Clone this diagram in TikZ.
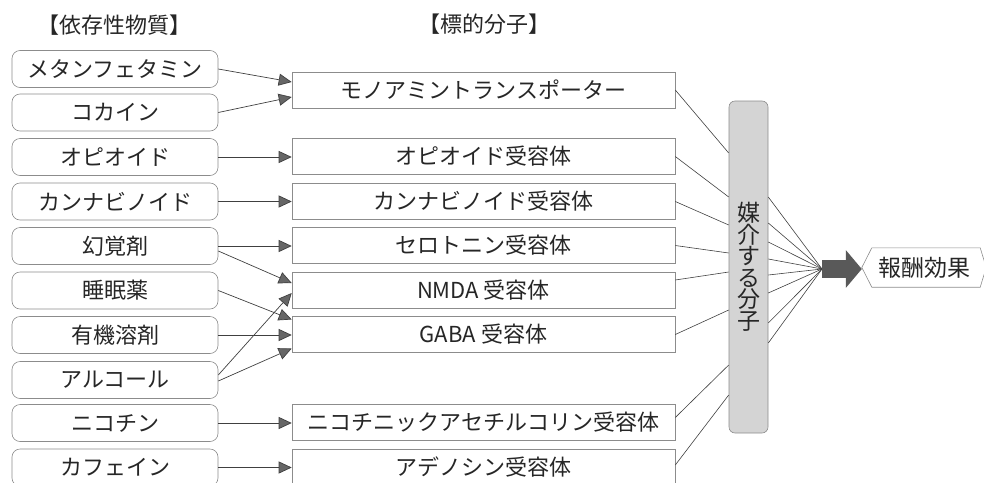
\documentclass[tikz,border=0pt]{standalone}
\usepackage{fontspec}
\setmainfont{Noto Sans CJK JP}
\usetikzlibrary{arrows.meta,calc}
\begin{document}
\begin{tikzpicture}[x=1pt,y=-1pt,
  txt/.style={font=\fontsize{22}{22}\selectfont, text=black!85},
  src/.style={txt, draw=black!45, line width=0.6pt, rounded corners=8pt, minimum width=206pt, minimum height=37pt, inner sep=0pt},
  tgt/.style={txt, draw=black!45, line width=0.6pt, minimum width=383pt, minimum height=36pt, inner sep=0pt},
  arr/.style={draw=black!75, line width=0.7pt, -{Triangle[length=13pt,width=12pt,fill=black!60]}},
  fan/.style={draw=black!75, line width=0.6pt},
  head/.style={txt, inner sep=0pt}]
\useasboundingbox (0,0) rectangle (984,482);

% headers
\node[head] (h1) at (114,25) {【依存性物質】};
\node[head] (h2) at (484,24) {【標的分子】};

% source substances
\node[src] (s1)  at (115,69)    {メタンフェタミン};
\node[src] (s2)  at (115,112.5) {コカイン};
\node[src] (s3)  at (115,157)   {オピオイド};
\node[src] (s4)  at (115,201.5) {カンナビノイド};
\node[src] (s5)  at (115,246)   {幻覚剤};
\node[src] (s6)  at (115,290.5) {睡眠薬};
\node[src] (s7)  at (115,335)   {有機溶剤};
\node[src] (s8)  at (115,380)   {アルコール};
\node[src] (s9)  at (115,423)   {ニコチン};
\node[src] (s10) at (115,467.5) {カフェイン};

% target molecules
\node[tgt] (tA) at (483.5,90)    {モノアミントランスポーター};
\node[tgt] (tB) at (483.5,156.5) {オピオイド受容体};
\node[tgt] (tC) at (483.5,201.5) {カンナビノイド受容体};
\node[tgt] (tD) at (483.5,245.5) {セロトニン受容体};
\node[tgt] (tE) at (483.5,290)   {NMDA 受容体};
\node[tgt] (tF) at (483.5,334.5) {GABA 受容体};
\node[tgt] (tG) at (483.5,422.5) {ニコチニックアセチルコリン受容体};
\node[tgt] (tH) at (483.5,467)   {アデノシン受容体};

% mediating molecules
\node[draw=black!45, line width=0.6pt, fill=black!17, rounded corners=6pt,
      minimum width=39pt, minimum height=332pt, inner sep=0pt,
      align=center, font=\fontsize{23}{21.5}\selectfont, text=black!85]
      (m) at (748.5,267) {媒\\介\\す\\る\\分\\子};

% reward effect
\node[txt, font=\fontsize{23}{23}\selectfont, minimum width=124pt, minimum height=39pt, inner sep=0pt]
      (rew) at (924,267.5) {報酬効果};
\draw[draw=black!45, line width=0.6pt] (rew.west) -- ($(rew.north west)+(10,0)$) -- ($(rew.north east)+(-6,0)$)
  -- (rew.east) -- ($(rew.south east)+(-6,0)$) -- ($(rew.south west)+(10,0)$) -- cycle;

% source -> target
\draw[arr] (s1.east) -- ($(tA.west)+(0,-8)$);
\draw[arr] (s2.east) -- ($(tA.west)+(0,7)$);
\draw[arr] (s3.east) -- (s3.east -| tB.west);
\draw[arr] (s4.east) -- (s4.east -| tC.west);
\draw[arr] (s5.east) -- (s5.east -| tD.west);
\draw[arr] ($(s5.east)+(0,5)$) -- ($(tE.west)+(0,-7)$);
\draw[arr] (s6.east) -- ($(tF.west)+(0,-15)$);
\draw[arr] (s7.east) -- (s7.east -| tF.west);
\draw[arr] ($(s8.east)+(0,-5)$) -- ($(tE.west)+(0,3)$);
\draw[arr] ($(s8.east)+(0,1)$) -- ($(tF.west)+(0,14)$);
\draw[arr] (s9.east) -- (s9.east -| tG.west);
\draw[arr] (s10.east) -- (s10.east -| tH.west);

% target -> mediator
\draw[fan] (tA.east) -- ($(m.west)+(0,-114)$);
\draw[fan] (tB.east) -- ($(m.west)+(0,-70)$);
\draw[fan] (tC.east) -- ($(m.west)+(0,-42)$);
\draw[fan] (tD.east) -- ($(m.west)+(0,-14)$);
\draw[fan] ($(tE.east)+(0,-10)$) -- ($(m.west)+(0,5)$);
\draw[fan] (tF.east) -- ($(m.west)+(0,43)$);
\draw[fan] ($(tG.east)+(0,-5)$) -- ($(m.west)+(0,98)$);
\draw[fan] ($(tH.east)+(0,-2)$) -- ($(m.west)+(0,128)$);

% mediator -> hub
\coordinate (hub) at (822,269);
\foreach \d in {-70,-44,-25,-8,8,26,56,76}{
  \draw[fan] ($(m.east)+(0,\d)$) -- (hub);
}

% big arrow
\draw[black!65, line width=18pt, -{Triangle[length=16pt,width=37pt]}] (hub) -- (hub -| rew.west);
\end{tikzpicture}
\end{document}
